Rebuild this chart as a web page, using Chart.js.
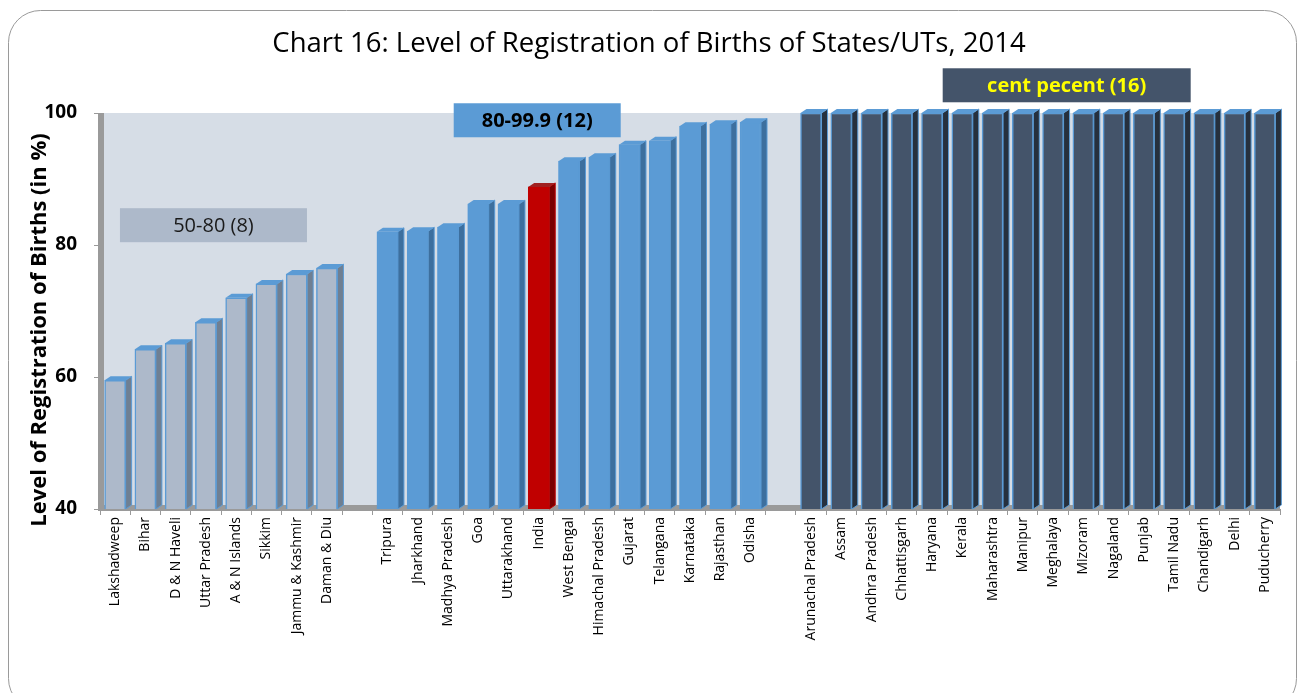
<!DOCTYPE html>
<html>
<head>
<meta charset="utf-8">
<script src="https://cdn.jsdelivr.net/npm/chart.js@4"></script>
<style>
  html, body { margin: 0; padding: 0; background: #fff; }
  #wrap { width: 1303px; height: 693px; position: relative; }
</style>
</head>
<body>
<div id="wrap"><canvas id="c" width="1303" height="693"></canvas></div>
<script>
// categories, '' marks the gap between groups
const states = ['Lakshadweep','Bihar','D & N Haveli','Uttar Pradesh','A & N Islands','Sikkim','Jammu & Kashmir','Daman & Diu','',
  'Tripura','Jharkhand','Madhya Pradesh','Goa','Uttarakhand','India','West Bengal','Himachal Pradesh','Gujarat','Telangana','Karnataka','Rajasthan','Odisha','',
  'Arunachal Pradesh','Assam','Andhra Pradesh','Chhattisgarh','Haryana','Kerala','Maharashtra','Manipur','Meghalaya','Mizoram','Nagaland','Punjab','Tamil Nadu','Chandigarh','Delhi','Puducherry'];
const levels = [59.5, 64.2, 65.1, 68.3, 72.0, 74.1, 75.6, 76.5, null,
  82.0, 82.1, 82.7, 86.2, 86.2, 88.8, 92.7, 93.3, 95.2, 95.8, 98.0, 98.3, 98.6, null,
  100, 100, 100, 100, 100, 100, 100, 100, 100, 100, 100, 100, 100, 100, 100, 100];
const group = [1,1,1,1,1,1,1,1,0, 2,2,2,2,2,3,2,2,2,2,2,2,2,0, 4,4,4,4,4,4,4,4,4,4,4,4,4,4,4,4];
const yTicks = [40, 60, 80, 100];
const boxes = [
  { text: '50-80 (8)', at: 3.25, y: 83, w: 187, bg: '#adb9ca', fg: '#1a1a1a', bold: false },
  { text: '80-99.9 (12)', at: 13.95, y: 98.9, w: 167, bg: '#5b9bd5', fg: '#000', bold: true },
  { text: 'cent pecent (16)', at: 31.45, y: 104.2, w: 248, bg: '#44546a', fg: '#ffff00', bold: true }
];

const face = { 1: '#adb9ca', 2: '#5b9bd5', 3: '#c00000', 4: '#44546a' };
const side = { 1: '#6f7f92', 2: '#3d6f9e', 3: '#7a0000', 4: '#26303d' };
const top_ = { 1: '#5b9bd5', 2: '#5b9bd5', 3: '#a02020', 4: '#5b9bd5' };
const edge = { 1: '#5b9bd5', 2: '#5b9bd5', 3: '#c00000', 4: '#5b9bd5' };

const deco = {
  id: 'deco',
  beforeDraw(chart) {
    const ctx = chart.ctx, a = chart.chartArea;
    ctx.save();
    ctx.fillStyle = '#fff';
    ctx.fillRect(0, 0, chart.width, chart.height);
    // rounded frame
    ctx.strokeStyle = '#9a9a9a'; ctx.lineWidth = 1;
    ctx.beginPath();
    ctx.roundRect(8.5, 10.5, 1288, 700, 32);
    ctx.stroke();
    // title
    ctx.fillStyle = '#000';
    ctx.font = '27.5px "Open Sans", sans-serif';
    ctx.textAlign = 'center'; ctx.textBaseline = 'middle';
    ctx.fillText('Chart 16: Level of Registration of Births of States/UTs, 2014', 649, 44);
    // y axis title, sits a bit below the plot centre like the original
    ctx.save();
    ctx.translate(40, 330);
    ctx.rotate(-Math.PI / 2);
    ctx.font = 'bold 22px "Open Sans", sans-serif';
    ctx.fillText('Level of Registration of Births (in %)', 0, 0);
    ctx.restore();
    // plot wall
    ctx.fillStyle = '#d6dde6';
    ctx.fillRect(a.left, a.top, a.right - a.left, a.bottom - a.top);
    ctx.fillStyle = '#9a9a9a';
    ctx.fillRect(a.left - 2, a.top, 6, a.bottom - a.top + 2);
    ctx.fillRect(a.left, a.bottom - 4, a.right - a.left, 6);
    ctx.restore();
  },
  afterDatasetsDraw(chart) {
    const ctx = chart.ctx, meta = chart.getDatasetMeta(0), a = chart.chartArea;
    const d = 6, h = 4;
    ctx.save();
    meta.data.forEach((bar, i) => {
      if (levels[i] == null) return;
      const g = group[i];
      const l = bar.x - bar.width / 2, r = bar.x + bar.width / 2;
      const b = Math.min(bar.base, a.bottom);
      ctx.fillStyle = side[g];
      ctx.beginPath();
      ctx.moveTo(r, bar.y); ctx.lineTo(r + d, bar.y - h);
      ctx.lineTo(r + d, b - h); ctx.lineTo(r, b); ctx.closePath();
      ctx.fill();
      ctx.strokeStyle = edge[g]; ctx.lineWidth = 1; ctx.stroke();
      ctx.fillStyle = top_[g];
      ctx.beginPath();
      ctx.moveTo(l, bar.y); ctx.lineTo(l + d, bar.y - h);
      ctx.lineTo(r + d, bar.y - h); ctx.lineTo(r, bar.y); ctx.closePath();
      ctx.fill();
    });
    // group boxes
    const x = chart.scales.x, y = chart.scales.y;
    boxes.forEach(b => {
      const cx = x.getPixelForValue(b.at);
      const cy = y.getPixelForValue(b.y);
      ctx.fillStyle = b.bg;
      ctx.fillRect(cx - b.w / 2, cy - 17, b.w, 34);
      ctx.fillStyle = b.fg;
      ctx.font = (b.bold ? 'bold ' : '') + '20px "Open Sans", sans-serif';
      ctx.textAlign = 'center'; ctx.textBaseline = 'middle';
      ctx.fillText(b.text, cx, cy + 1);
    });
    ctx.restore();
  }
};

new Chart(document.getElementById('c'), {
  type: 'bar',
  data: {
    labels: states,
    datasets: [{
      data: levels,
      backgroundColor: group.map(g => face[g] || 'transparent'),
      borderColor: group.map(g => edge[g] || 'transparent'),
      borderWidth: 1.5,
      barThickness: 21
    }]
  },
  options: {
    responsive: false,
    animation: false,
    layout: { padding: { left: 0, right: 23, top: 113, bottom: 0 } },
    plugins: { legend: { display: false }, tooltip: { enabled: false } },
    scales: {
      x: {
        grid: { drawOnChartArea: false, drawTicks: true, tickLength: 6, color: '#9a9a9a', offset: true },
        border: { display: false },
        ticks: { minRotation: 90, maxRotation: 90, autoSkip: false, color: '#000', padding: 2,
                 font: { family: '"Open Sans", sans-serif', size: 14 } },
        afterFit: s => { s.height = 184; }
      },
      y: {
        min: 40, max: 100,
        afterBuildTicks: s => { s.ticks = yTicks.map(v => ({ value: v })); },
        grid: { drawOnChartArea: false, drawTicks: true, tickLength: 6, color: '#9a9a9a' },
        border: { display: false },
        ticks: { color: '#000', padding: 17, font: { family: '"Open Sans", sans-serif', size: 19, weight: 'bold' } },
        afterFit: s => { s.width = 100; }
      }
    }
  },
  plugins: [deco]
});
</script>
</body>
</html>
